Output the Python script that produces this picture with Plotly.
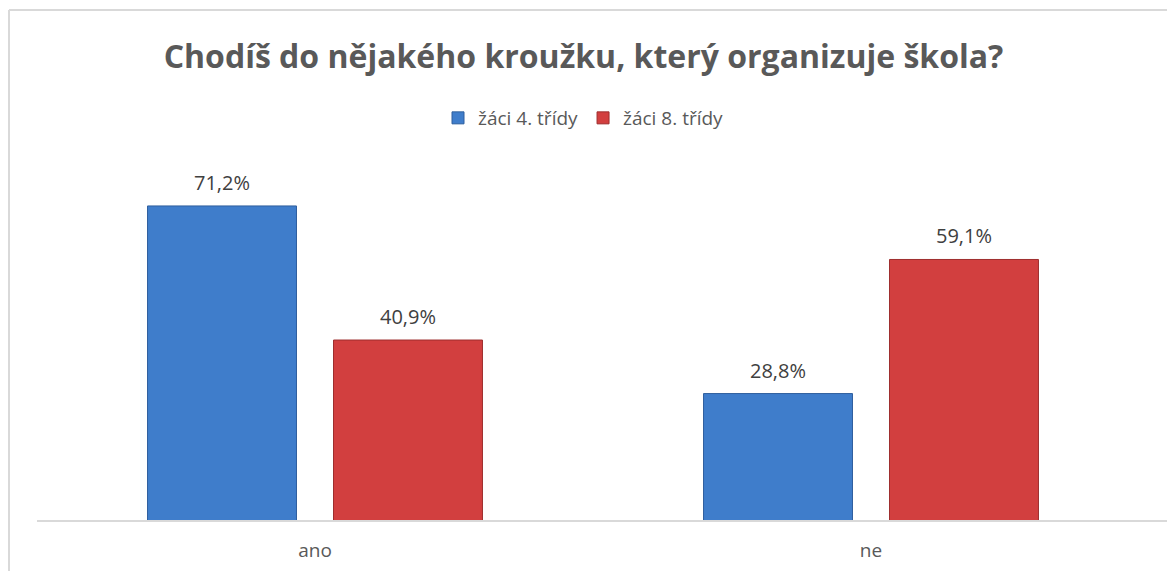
import plotly.graph_objects as go

categories = ["ano", "ne"]
series_names = ["žáci 4. třídy", "žáci 8. třídy"]
values_4 = [71.2, 28.8]
values_8 = [40.9, 59.1]
labels_4 = ["71,2%", "28,8%"]
labels_8 = ["40,9%", "59,1%"]

W, H = 1167, 571
colors = ["#3F7DCB", "#D23F3F"]
edge = ["#2F5F9E", "#9E2E2E"]

fig = go.Figure()
for name, vals, c, e in zip(series_names, [values_4, values_8], colors, edge):
    fig.add_trace(go.Bar(
        x=categories, y=vals, name=name,
        marker=dict(color=c, line=dict(color=e, width=1)),
        hoverinfo="skip",
    ))

# value labels
for i, (vals, labs) in enumerate(zip([values_4, values_8], [labels_4, labels_8])):
    off = -93 if i == 0 else 93
    for cat, v, lab in zip(categories, vals, labs):
        fig.add_annotation(x=cat, y=v, text=lab, showarrow=False,
                           xref="x", yref="y", xshift=off, yshift=8,
                           yanchor="bottom",
                           font=dict(family="Open Sans", size=20, color="#404040"))

x0, x1 = 37 / W, 1149 / W
ybot, ytop = (H - 521) / H, (H - 167) / H

fig.update_layout(
    width=W, height=H,
    margin=dict(l=0, r=0, t=0, b=0),
    paper_bgcolor="white", plot_bgcolor="white",
    barmode="group", bargap=0.331, bargroupgap=0.199,
    title=dict(text="<b>Chodíš do nějakého kroužku, který organizuje škola?</b>",
               x=0.5, xanchor="center", y=1 - 57 / H, yanchor="middle",
               font=dict(family="Open Sans", size=32, color="#595959")),
    legend=dict(orientation="h", x=0.5, xanchor="center", y=1 - 118 / H, yanchor="middle",
                font=dict(family="Open Sans", size=19, color="#595959"),
                itemwidth=30, traceorder="normal"),
    xaxis=dict(domain=[x0, x1], showgrid=False, showline=False, ticks="",
               tickfont=dict(family="Open Sans", size=19, color="#595959")),
    yaxis=dict(domain=[ybot, ytop], range=[0, 80], visible=False),
    font=dict(family="Open Sans"),
    shapes=[
        dict(type="line", xref="paper", yref="paper", x0=x0, x1=1, y0=ybot, y1=ybot,
             line=dict(color="#D9D9D9", width=2)),
        dict(type="line", xref="paper", yref="paper", x0=9 / W, x1=1, y0=1 - 10 / H, y1=1 - 10 / H,
             line=dict(color="#D9D9D9", width=2)),
        dict(type="line", xref="paper", yref="paper", x0=9 / W, x1=9 / W, y0=0, y1=1 - 10 / H,
             line=dict(color="#D9D9D9", width=2)),
    ],
)
fig.update_xaxes(ticklabelstandoff=16)

fig.write_html("out.html", config={"displayModeBar": False})
with open("out.html", "r", encoding="utf-8") as f:
    html = f.read()
html = html.replace("<body>", '<body style="margin:0;overflow:hidden">', 1)
with open("out.html", "w", encoding="utf-8") as f:
    f.write(html)
